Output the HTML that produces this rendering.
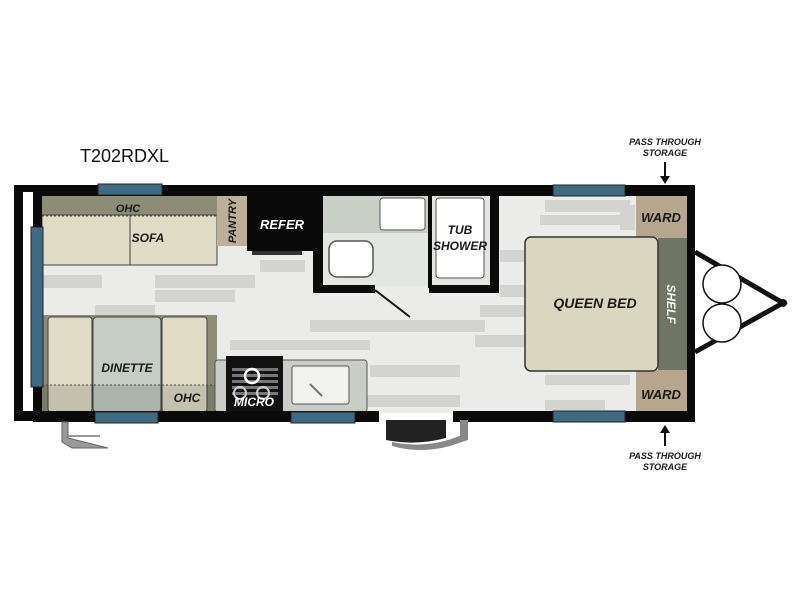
<!DOCTYPE html>
<html><head><meta charset="utf-8"><style>
html,body{margin:0;padding:0;background:#fff;width:800px;height:600px;overflow:hidden}
svg{display:block}
.l{font-family:"Liberation Sans",sans-serif;font-weight:bold;font-style:italic;fill:#1a1a1a}
</style></head><body>
<svg width="800" height="600" viewBox="0 0 800 600" xmlns="http://www.w3.org/2000/svg">
<rect width="800" height="600" fill="#fff"/>
<text x="80" y="162" font-family="Liberation Sans,sans-serif" font-size="18" fill="#111">T202RDXL</text>
<!-- floor -->
<rect x="40" y="195" width="648" height="218" fill="#ebebe9"/>
<g fill="#d3d3d0">
<rect x="42" y="275" width="60" height="13"/><rect x="155" y="275" width="100" height="13"/>
<rect x="155" y="290" width="80" height="12"/><rect x="95" y="305" width="60" height="10"/>
<rect x="260" y="260" width="45" height="12"/><rect x="310" y="320" width="175" height="12"/>
<rect x="230" y="340" width="140" height="10"/><rect x="370" y="365" width="90" height="12"/>
<rect x="480" y="305" width="45" height="12"/><rect x="475" y="335" width="50" height="12"/>
<rect x="360" y="395" width="100" height="12"/><rect x="545" y="200" width="85" height="12"/>
<rect x="540" y="215" width="80" height="10"/><rect x="500" y="250" width="25" height="12"/>
<rect x="500" y="285" width="25" height="12"/><rect x="545" y="375" width="85" height="10"/>
<rect x="545" y="400" width="60" height="10"/><rect x="400" y="230" width="30" height="14"/>
<rect x="345" y="275" width="85" height="10"/><rect x="620" y="205" width="15" height="25"/>
</g>
<!-- sofa -->
<rect x="42" y="196" width="175" height="19" fill="#8d8c76"/>
<rect x="42" y="215" width="175" height="50" fill="#e0dcc6"/>
<line x1="42" y1="216" x2="217" y2="216" stroke="#555" stroke-dasharray="2,2"/>
<line x1="130" y1="215" x2="130" y2="265" stroke="#444" stroke-width="1"/>
<rect x="42" y="215" width="175" height="50" fill="none" stroke="#444" stroke-width="1"/>
<text class="l" x="128" y="212" font-size="11" text-anchor="middle">OHC</text>
<text class="l" x="148" y="242" font-size="12" text-anchor="middle">SOFA</text>
<rect x="217" y="196" width="30" height="50" fill="#bdb099"/>
<text class="l" transform="translate(236,221) rotate(-90)" font-size="11" text-anchor="middle">PANTRY</text>
<rect x="247" y="196" width="66" height="55" fill="#0a0a0a"/>
<rect x="252" y="251" width="50" height="4" fill="#333"/>
<text x="282" y="229" font-family="Liberation Sans,sans-serif" font-weight="bold" font-style="italic" font-size="13" fill="#fff" text-anchor="middle">REFER</text>
<!-- bathroom -->
<rect x="323" y="196" width="107" height="90" fill="#e4e6e2"/>
<rect x="323" y="196" width="107" height="37" fill="#c9d0c6"/>
<rect x="380" y="198" width="45" height="32" rx="3" fill="#fff" stroke="#555"/>
<rect x="329" y="241" width="44" height="36" rx="8" fill="#fff" stroke="#555" stroke-width="1.5"/>
<rect x="313" y="196" width="10" height="97" fill="#0a0a0a"/>
<rect x="313" y="285" width="62" height="8" fill="#0a0a0a"/>
<line x1="375" y1="290" x2="410" y2="317" stroke="#111" stroke-width="2"/>
<rect x="432" y="196" width="58" height="90" fill="#e4e6e2"/>
<rect x="436" y="198" width="48" height="80" rx="3" fill="#fff" stroke="#555"/>
<rect x="490" y="196" width="9" height="97" fill="#0a0a0a"/>
<rect x="429" y="285" width="70" height="8" fill="#0a0a0a"/>
<rect x="428" y="196" width="4" height="92" fill="#0a0a0a"/>
<text class="l" x="460" y="234" font-size="12" text-anchor="middle">TUB</text>
<text class="l" x="460" y="250" font-size="12" text-anchor="middle">SHOWER</text>
<!-- dinette -->
<rect x="42" y="315" width="175" height="97" fill="#8d8c76"/>
<rect x="48" y="317" width="44" height="95" rx="3" fill="#e0dcc6" stroke="#444"/>
<rect x="93" y="317" width="68" height="95" rx="4" fill="#c5cdc4" stroke="#444"/>
<rect x="162" y="317" width="45" height="95" rx="3" fill="#e0dcc6" stroke="#444"/>
<rect x="42" y="385" width="175" height="27" fill="#000" opacity="0.12"/>
<line x1="42" y1="385" x2="365" y2="385" stroke="#444" stroke-dasharray="2,2"/>
<text class="l" x="127" y="372" font-size="12" text-anchor="middle">DINETTE</text>
<text class="l" x="187" y="402" font-size="12" text-anchor="middle">OHC</text>
<!-- kitchen -->
<rect x="215" y="360" width="152" height="52" rx="3" fill="#c9cdc6" stroke="#555"/>
<rect x="226" y="356" width="57" height="56" fill="#111"/>
<g fill="#777"><rect x="232" y="368" width="46" height="3"/><rect x="232" y="374" width="46" height="3"/><rect x="232" y="380" width="46" height="3"/><rect x="232" y="386" width="46" height="3"/><rect x="232" y="392" width="46" height="3"/></g>
<circle cx="252" cy="376" r="7" fill="none" stroke="#fff" stroke-width="2.5"/>
<circle cx="240" cy="393" r="6" fill="none" stroke="#ccc" stroke-width="2"/>
<circle cx="263" cy="393" r="6" fill="none" stroke="#ccc" stroke-width="2"/>
<text x="254" y="406" font-family="Liberation Sans,sans-serif" font-weight="bold" font-style="italic" font-size="12" fill="#fff" text-anchor="middle">MICRO</text>
<rect x="292" y="366" width="57" height="38" rx="2" fill="#f2f2ef" stroke="#555"/>
<line x1="310" y1="384" x2="322" y2="396" stroke="#777" stroke-width="2"/>
<!-- bed area -->
<rect x="636" y="196" width="51" height="42" fill="#b6a68d"/>
<rect x="636" y="370" width="51" height="42" fill="#b6a68d"/>
<text class="l" x="661" y="222" font-size="13" text-anchor="middle">WARD</text>
<text class="l" x="661" y="399" font-size="13" text-anchor="middle">WARD</text>
<rect x="658" y="238" width="29" height="132" fill="#707465"/>
<rect x="525" y="237" width="133" height="134" rx="6" fill="#d9d7c0" stroke="#333" stroke-width="1.5"/>
<text class="l" x="595" y="308" font-size="14" text-anchor="middle">QUEEN BED</text>
<text transform="translate(667,304) rotate(90)" font-family="Liberation Sans,sans-serif" font-weight="bold" font-style="italic" font-size="12" fill="#fff" text-anchor="middle">SHELF</text>
<!-- walls -->
<rect x="33" y="185" width="661" height="11" fill="#0a0a0a"/>
<rect x="687" y="185" width="8" height="236" fill="#0a0a0a"/>
<rect x="33" y="185" width="9" height="236" fill="#0a0a0a"/>
<rect x="14" y="185" width="9" height="236" fill="#0a0a0a"/>
<rect x="14" y="185" width="28" height="7" fill="#0a0a0a"/>
<rect x="14" y="411" width="28" height="10" fill="#0a0a0a"/>
<rect x="33" y="411" width="346" height="11" fill="#0a0a0a"/>
<rect x="453" y="411" width="242" height="11" fill="#0a0a0a"/>
<!-- windows -->
<g fill="#3f6a84" stroke="#222" stroke-width="1">
<rect x="98" y="184" width="64" height="11"/>
<rect x="553" y="185" width="72" height="11"/>
<rect x="31" y="227" width="12" height="160"/>
<rect x="95" y="412" width="63" height="11"/>
<rect x="291" y="412" width="64" height="11"/>
<rect x="553" y="411" width="72" height="11"/>
</g>
<!-- hitch -->
<path d="M695,252 L783,303 L695,352" fill="none" stroke="#111" stroke-width="5"/>
<circle cx="783" cy="303" r="4" fill="#111"/>
<line x1="722" y1="300" x2="722" y2="306" stroke="#111" stroke-width="5"/>
<circle cx="722" cy="284" r="19" fill="#fff" stroke="#111" stroke-width="1.5"/>
<circle cx="722" cy="323" r="19" fill="#fff" stroke="#111" stroke-width="1.5"/>
<!-- steps -->
<path d="M62,422 L62,442 L72,448 L108,448 L68,438 L68,422 Z" fill="#999" stroke="#666"/>
<line x1="68" y1="436" x2="100" y2="436" stroke="#999" stroke-width="2"/>
<path d="M386,420 L446,420 L446,438 Q416,446 386,440 Z" fill="#222"/>
<path d="M392,446 Q420,454 450,446 L468,440 L468,420 L460,420 L460,436 L448,440 Q420,448 392,442 Z" fill="#888"/>
<!-- pass through -->
<text class="l" x="665" y="145" font-size="9" text-anchor="middle" font-style="normal">PASS THROUGH</text>
<text class="l" x="665" y="156" font-size="9" text-anchor="middle" font-style="normal">STORAGE</text>
<line x1="665" y1="162" x2="665" y2="178" stroke="#111" stroke-width="2"/>
<path d="M660,176 L670,176 L665,184 Z" fill="#111"/>
<line x1="665" y1="430" x2="665" y2="446" stroke="#111" stroke-width="2"/>
<path d="M660,433 L670,433 L665,425 Z" fill="#111"/>
<text class="l" x="665" y="459" font-size="9" text-anchor="middle" font-style="normal">PASS THROUGH</text>
<text class="l" x="665" y="470" font-size="9" text-anchor="middle" font-style="normal">STORAGE</text>
</svg>
</body></html>
